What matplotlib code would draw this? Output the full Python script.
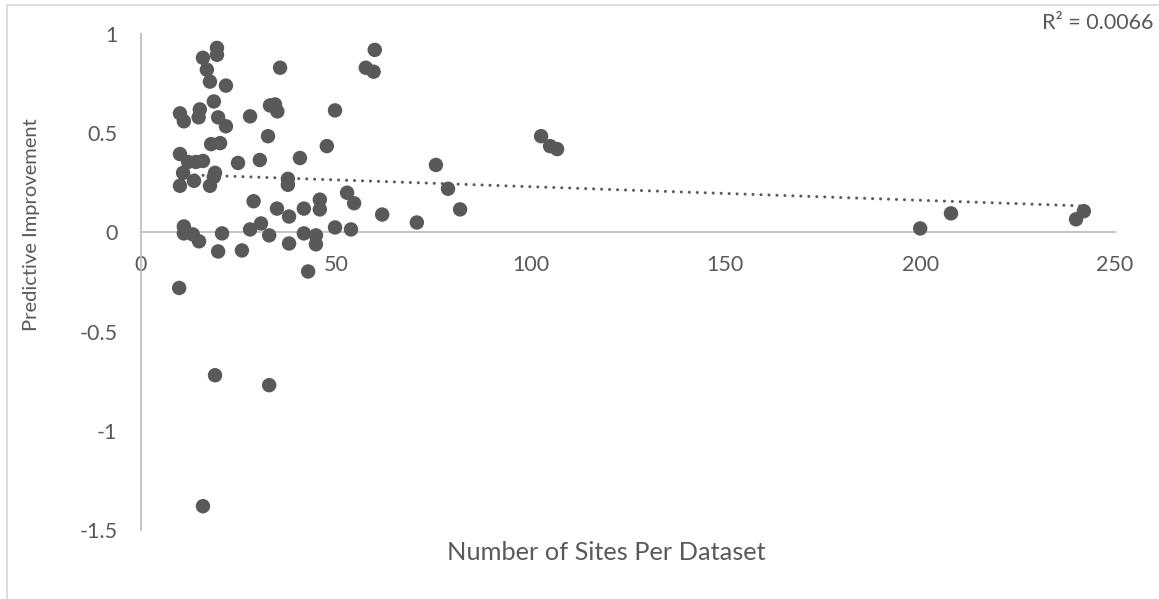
import numpy as np
import matplotlib
matplotlib.use("Agg")
import matplotlib.pyplot as plt
from matplotlib.patches import Rectangle
from matplotlib.ticker import FuncFormatter

plt.rcParams['font.family'] = ['Lato', 'DejaVu Sans']
plt.rcParams['axes.unicode_minus'] = False

sites = [19.5, 19.5, 15.9, 16.9, 17.7, 21.8, 18.7, 35.7, 60.0, 57.7, 59.7,
         10.0, 11.0, 15.1, 14.8, 19.8, 21.8, 28.0, 33.1, 34.4, 35.0, 49.8,
         32.6, 18.0, 20.3, 47.7, 10.0, 12.1, 14.1, 15.9, 24.9, 30.5, 40.8,
         10.8, 10.0, 13.6, 19.0, 18.7, 17.7, 37.7, 37.7, 28.9, 52.9, 54.7,
         61.9, 34.9, 41.8, 45.9, 45.9, 30.8, 28.0, 11.0, 11.0, 13.3, 14.9,
         20.8, 19.8, 25.9, 32.9, 38.0, 41.8, 44.9, 44.9, 49.8, 53.9, 42.9,
         9.8, 38.0, 19.0, 32.9, 15.9, 70.8, 75.7, 78.8, 81.9, 102.7, 105.0,
         106.8, 200.0, 207.9, 240.0, 242.0]
improvement = [0.93, 0.895, 0.88, 0.82, 0.76, 0.74, 0.66, 0.83, 0.92, 0.83, 0.81,
               0.60, 0.56, 0.62, 0.58, 0.58, 0.535, 0.585, 0.64, 0.645, 0.61, 0.615,
               0.485, 0.445, 0.45, 0.435, 0.395, 0.355, 0.355, 0.36, 0.35, 0.365, 0.375,
               0.30, 0.235, 0.26, 0.30, 0.28, 0.235, 0.27, 0.24, 0.157, 0.20, 0.147,
               0.09, 0.12, 0.12, 0.165, 0.116, 0.045, 0.015, 0.03, -0.005, -0.01, -0.045,
               -0.005, -0.096, -0.091, -0.015, -0.056, -0.005, -0.015, -0.06, 0.025, 0.015, -0.197,
               -0.28, 0.08, -0.72, -0.77, -1.38, 0.05, 0.34, 0.22, 0.116, 0.485, 0.435,
               0.42, 0.02, 0.096, 0.066, 0.107]

x_ticks = [0, 50, 100, 150, 200, 250]
y_ticks = [-1.5, -1, -0.5, 0, 0.5, 1]
r2_label = "R² = 0.0066"

x = np.array(sites)
y = np.array(improvement)

W, H = 1159, 599
fig = plt.figure(figsize=(W / 100, H / 100), dpi=100)
fig.patch.set_facecolor('white')

# outer chart border (left and top visible)
fig.patches.append(Rectangle((7 / W, -0.1), 1.2, 1.0 - 5 / H + 0.1, transform=fig.transFigure,
                             fill=False, edgecolor='#d9d9d9', linewidth=1.2, clip_on=False))

ax = fig.add_axes([141 / W, 1 - 530 / H, (1115 - 141) / W, (530 - 34) / H])
ax.set_xlim(0, 250)
ax.set_ylim(-1.5, 1)

grey = '#595959'
ax.scatter(x, y, s=108, color=grey, edgecolors='none', zorder=3)

# linear trendline
slope, intercept = np.polyfit(x, y, 1)
xt = np.array([x.min(), x.max()])
ax.plot(xt, intercept + slope * xt, color=grey, linewidth=2.2,
        linestyle=(0, (0.01, 2.6)), dash_capstyle='round', zorder=2)

for s in ['top', 'right']:
    ax.spines[s].set_visible(False)
ax.spines['bottom'].set_position(('data', 0))
ax.spines['bottom'].set_color('#bfbfbf')
ax.spines['left'].set_color('#bfbfbf')
ax.spines['bottom'].set_linewidth(1.3)
ax.spines['left'].set_linewidth(1.3)

ax.set_xticks(x_ticks)
ax.set_yticks(y_ticks)
ax.tick_params(axis='both', length=0, labelsize=15.5, labelcolor=grey)
ax.tick_params(axis='x', pad=16)
ax.tick_params(axis='y', pad=17)
ax.yaxis.set_major_formatter(FuncFormatter(lambda v, p: f"{v:g}"))
ax.xaxis.set_major_formatter(FuncFormatter(lambda v, p: f"{v:g}"))

fig.text(606 / W, 1 - 553 / H, "Number of Sites Per Dataset", ha='center', va='center',
         fontsize=18.3, color=grey)
fig.text(32 / W, 1 - 225 / H, "Predictive Improvement", ha='center', va='center',
         rotation=90, fontsize=14.5, color=grey)
fig.text(1153 / W, 1 - 23 / H, r2_label, ha='right', va='center', fontsize=15.5, color=grey)

fig.savefig("out.png", dpi=100)
